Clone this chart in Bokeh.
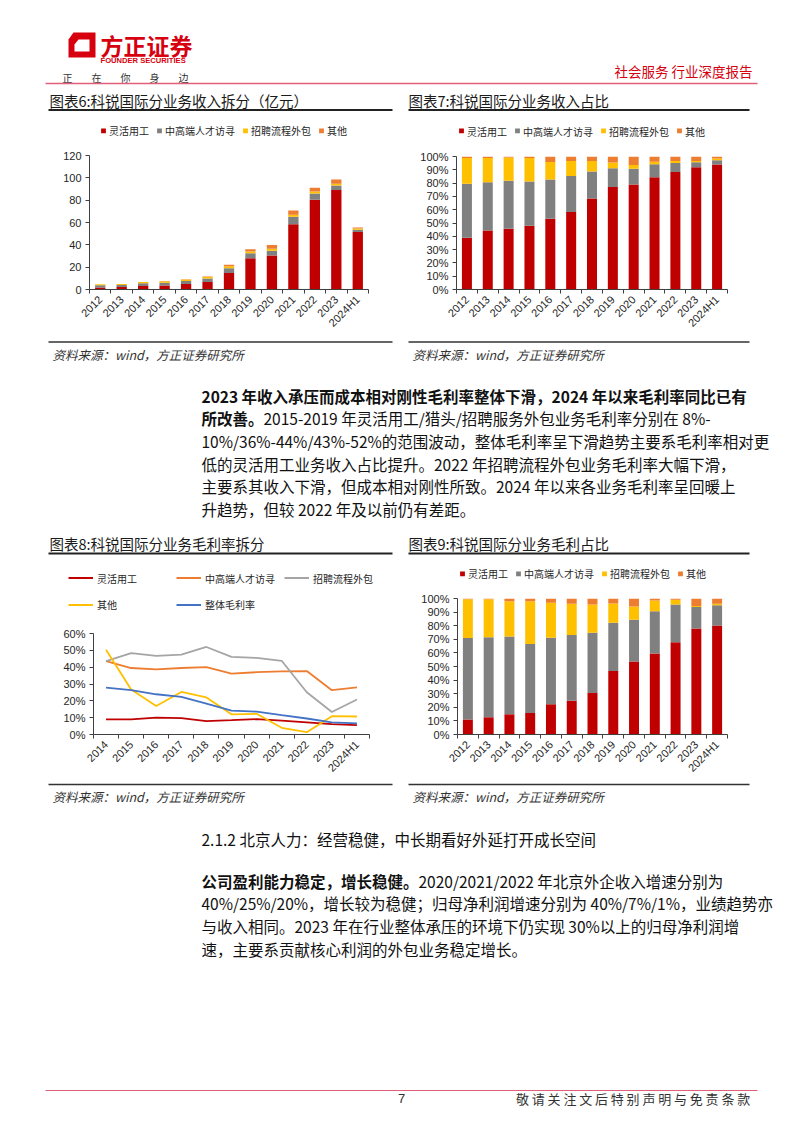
import math
from bokeh.plotting import figure
from bokeh.models import (ColumnDataSource, Range1d, FixedTicker, Legend, LegendItem,
                          CustomJSTickFormatter, PrintfTickFormatter)
from bokeh.layouts import column, row
from bokeh.embed import file_html
from bokeh.resources import INLINE
from bokeh.core.properties import value

CJK = "Noto Sans CJK SC"
LAT = "Liberation Sans"
AX = "#404040"

# ---------------- data ----------------
years = ["2012", "2013", "2014", "2015", "2016", "2017", "2018", "2019",
         "2020", "2021", "2022", "2023", "2024H1"]
series_names = ["灵活用工", "中高端人才访寻", "招聘流程外包", "其他"]
bar_colors = ["#C00000", "#808080", "#FFC000", "#ED7D31"]

# 图表6: revenue by segment (亿元)
rev_flex = [1.8, 2.2, 3.1, 3.6, 4.9, 6.8, 14.8, 28.0, 30.5, 58.5, 80.3, 89.1, 51.6]
rev_hunt = [1.9, 1.8, 2.4, 2.5, 2.7, 3.1, 4.3, 4.5, 4.3, 6.7, 5.6, 4.1, 2.0]
rev_rpo = [0.9, 0.9, 1.2, 1.35, 1.25, 1.3, 1.8, 1.6, 1.8, 1.8, 1.8, 1.5, 1.0]
rev_other = [0.05, 0.06, 0.05, 0.1, 0.4, 0.4, 1.2, 2.0, 3.3, 3.8, 3.5, 3.7, 1.0]

# 图表7: revenue share (%)
sh_flex = [39.0, 44.4, 45.6, 48.0, 53.2, 58.3, 68.5, 77.0, 79.0, 84.4, 88.3, 92.0, 93.9]
sh_hunt = [40.5, 36.3, 36.1, 33.2, 29.5, 27.1, 20.3, 14.2, 11.7, 9.7, 6.8, 3.6, 3.2]
sh_rpo = [19.3, 18.1, 17.6, 17.6, 13.2, 11.2, 7.8, 4.2, 3.0, 2.0, 1.5, 1.0, 1.4]
sh_other = [1.2, 1.2, 0.7, 1.2, 4.1, 3.4, 3.4, 4.6, 6.3, 3.9, 3.4, 3.4, 1.5]

# 图表8: gross margin by segment (%)
gm_years = ["2014", "2015", "2016", "2017", "2018", "2019", "2020", "2021",
            "2022", "2023", "2024H1"]
gm_names = ["灵活用工", "中高端人才访寻", "招聘流程外包", "其他", "整体毛利率"]
gm_colors = ["#C00000", "#ED7D31", "#A5A5A5", "#FFC000", "#4472C4"]
gm_flex = [9.0, 9.0, 10.0, 9.7, 8.0, 8.5, 9.1, 8.2, 7.2, 6.2, 5.6]
gm_hunt = [43.6, 39.5, 38.7, 39.5, 40.0, 36.2, 37.0, 37.5, 37.7, 26.3, 28.0]
gm_rpo = [43.6, 48.4, 46.7, 47.5, 52.0, 46.1, 45.5, 43.8, 25.1, 13.4, 20.8]
gm_other = [50.4, 26.7, 16.9, 25.3, 22.0, 12.0, 12.3, 4.0, 1.4, 10.9, 10.7]
gm_total = [27.8, 26.3, 23.9, 22.4, 18.3, 14.2, 13.6, 11.5, 9.5, 7.2, 6.6]

# 图表9: gross profit share (%)
gp_flex = [11.0, 12.7, 14.9, 15.9, 22.2, 24.9, 30.5, 46.6, 53.7, 59.5, 67.8, 78.0, 80.2]
gp_hunt = [60.0, 58.8, 57.1, 50.7, 49.0, 48.3, 44.4, 35.6, 30.7, 31.2, 27.8, 15.7, 14.9]
gp_rpo = [28.5, 28.0, 26.0, 31.4, 25.6, 22.9, 20.7, 14.1, 9.7, 7.8, 3.4, 0.7, 1.0]
gp_other = [0.5, 0.5, 2.0, 2.0, 3.2, 3.9, 4.4, 3.7, 5.9, 1.5, 1.0, 5.6, 3.9]

W = 786


# ---------------- helpers ----------------
def no_align(p):
    try:
        p.frame_align = False
    except Exception:
        pass
    return p


def blank_fig(w, h, xr, yr):
    p = figure(width=w, height=h, x_range=xr, y_range=yr,
               output_backend="svg", toolbar_location=None, min_border=0,
               x_axis_type=None, y_axis_type=None)
    p.outline_line_color = None
    return no_align(p)


def page_fig(y0, y1):
    return blank_fig(W, y1 - y0, Range1d(0, W), Range1d(y1, y0))


def put(p, x, y, s, size, color="#111111", font=CJK, style="normal", align="left"):
    p.text(x=[x], y=[y], text=[s], text_font=value(font), text_font_size=size,
           text_color=color, text_font_style=style, text_align=align, text_baseline="middle")


def hline(p, x0, x1, y, color, w):
    p.segment(x0=[x0], y0=[y], x1=[x1], y1=[y], line_color=color, line_width=w)


def legend_fig(w, h, kind, names, colors, mx, gw, gh, spacing=7, standoff=3, label_width=None):
    # legend strip above a chart; its swatches use the chart's series styles
    p = blank_fig(w, h, Range1d(0, 1), Range1d(0, 1))
    rs = []
    for c in colors:
        if kind == "bar":
            rs.append(p.vbar(x=[5], top=[1], width=0.5, fill_color=c, line_color=None))
        else:
            rs.append(p.line(x=[5, 6], y=[0.5, 0.5], line_color=c, line_width=1.8))
    leg = Legend(items=[LegendItem(label=n, renderers=[r]) for n, r in zip(names, rs)],
                 location="center_left", orientation="horizontal", glyph_width=gw, glyph_height=gh,
                 label_text_font=CJK, label_text_font_size="10px", label_text_color="#262626",
                 label_standoff=standoff, spacing=spacing, padding=0, margin=mx, label_height=10,
                 border_line_color=None, background_fill_alpha=0)
    if label_width:
        leg.label_width = label_width
    p.add_layout(leg)
    return p


def style_axes(p, labels):
    n = len(labels)
    centers = [i + 0.5 for i in range(n)]
    p.xaxis.ticker = FixedTicker(ticks=centers, minor_ticks=list(range(n + 1)))
    p.xaxis.formatter = CustomJSTickFormatter(args=dict(labels=labels),
                                              code="return labels[Math.round(tick - 0.5)];")
    p.xaxis.major_label_orientation = math.pi / 4
    p.xaxis.major_tick_line_color = None
    p.xaxis.major_tick_out = 0
    p.xaxis.minor_tick_line_color = AX
    p.xaxis.minor_tick_in = 0
    p.xaxis.minor_tick_out = 4
    p.xaxis.major_label_standoff = 4
    for ax in (p.xaxis, p.yaxis):
        ax.axis_line_color = AX
        ax.major_label_text_font = LAT
        ax.major_label_text_font_size = "11px"
        ax.major_label_text_color = "#262626"
    p.yaxis.major_tick_in = 0
    p.yaxis.major_tick_out = 4
    p.yaxis.major_tick_line_color = AX
    p.yaxis.minor_tick_line_color = None
    p.yaxis.major_label_standoff = 4
    p.grid.visible = False
    p.outline_line_color = None


def bar_chart(w, h, bl, br, bt, bb, ymax, ystep, pct, cols):
    data = dict(x=[i + 0.5 for i in range(len(years))])
    keys = []
    for k, c in enumerate(cols):
        data[f"s{k}"] = c
        keys.append(f"s{k}")
    src = ColumnDataSource(data)
    p = figure(width=w, height=h, x_range=Range1d(0, len(years)), y_range=Range1d(0, ymax),
               output_backend="svg", toolbar_location=None,
               min_border_left=bl, min_border_right=br, min_border_top=bt, min_border_bottom=bb)
    no_align(p)
    p.vbar_stack(keys, x="x", width=0.48, fill_color=bar_colors, line_color=None, source=src)
    style_axes(p, years)
    p.yaxis.ticker = FixedTicker(ticks=list(range(0, ymax + 1, ystep)))
    if pct:
        p.yaxis.formatter = PrintfTickFormatter(format="%d%%")
    return p


# ---------------- section A: header + titles (ref y 0..118) ----------------
A = page_fig(0, 118)
A.patch(x=[73, 95, 95, 68, 68], y=[32, 32, 57, 57, 39], fill_color="#D7000F", line_color=None)
A.patch(x=[78, 89, 89, 74, 74], y=[39, 39, 51, 51, 44], fill_color="white", line_color=None)
put(A, 100, 44, "方正证券", "23px", color="#D7000F", style="bold")
put(A, 100, 60, "FOUNDER SECURITIES", "7.6px", color="#D7000F", font=LAT, style="bold")
for i, ch in enumerate("正在你身边"):
    put(A, 67 + 29 * i, 77, ch, "10px", color="#333333", align="center")
put(A, 752, 70, "社会服务 行业深度报告", "13.5px", color="#D7000F", align="right")
hline(A, 45, 757, 83, "#E0607A", 1.4)
put(A, 49, 100, "图表6:科锐国际分业务收入拆分（亿元）", "14.5px", color="#1a1a1a")
put(A, 408, 100, "图表7:科锐国际分业务收入占比", "14.5px", color="#1a1a1a")
hline(A, 48, 392, 109.5, "#222222", 2)
hline(A, 408, 749, 109.5, "#222222", 2)

# ---------------- section B: charts 6 & 7 (ref y 118..336) ----------------
leg6 = legend_fig(400, 24, "bar", series_names, bar_colors, 100, 6, 6)
p6 = bar_chart(400, 194, 89, 32, 13, 43, 120, 20, False,
               [rev_flex, rev_hunt, rev_rpo, rev_other])
leg7 = legend_fig(386, 25, "bar", series_names, bar_colors, 58, 6, 6)
p7 = bar_chart(386, 193, 56, 59, 13, 43, 100, 10, True,
               [sh_flex, sh_hunt, sh_rpo, sh_other])

# ---------------- section C: sources + paragraph + titles (ref y 336..560) ----------------
C = page_fig(336, 560)
SRC = "资料来源：wind，方正证券研究所"
hline(C, 48, 392, 341.5, "#333333", 1.5)
hline(C, 408, 749, 341.5, "#333333", 1.5)
put(C, 52, 354, SRC, "12.5px", color="#333333", style="italic")
put(C, 412, 354, SRC, "12.5px", color="#333333", style="italic")
PX = 201
FS = "15.5px"
ys1 = [395, 417.7, 440.4, 463.1, 485.8, 508.5]
put(C, PX, ys1[0], "2023 年收入承压而成本相对刚性毛利率整体下滑，2024 年以来毛利率同比已有", FS, style="bold")
put(C, PX, ys1[1], "所改善。", FS, style="bold")
put(C, PX + 62, ys1[1], "2015-2019 年灵活用工/猎头/招聘服务外包业务毛利率分别在 8%-", FS)
put(C, PX, ys1[2], "10%/36%-44%/43%-52%的范围波动，整体毛利率呈下滑趋势主要系毛利率相对更", FS)
put(C, PX, ys1[3], "低的灵活用工业务收入占比提升。2022 年招聘流程外包业务毛利率大幅下滑，", FS)
put(C, PX, ys1[4], "主要系其收入下滑，但成本相对刚性所致。2024 年以来各业务毛利率呈回暖上", FS)
put(C, PX, ys1[5], "升趋势，但较 2022 年及以前仍有差距。", FS)
put(C, 49, 543, "图表8:科锐国际分业务毛利率拆分", "14.5px", color="#1a1a1a")
put(C, 408, 543, "图表9:科锐国际分业务毛利占比", "14.5px", color="#1a1a1a")
hline(C, 48, 392, 553, "#222222", 2)
hline(C, 408, 749, 553, "#222222", 2)

# ---------------- section D: charts 8 & 9 (ref y 560..781) ----------------
leg8a = legend_fig(400, 35, "line", gm_names[:3], gm_colors[:3], 68, 25, 12,
                   spacing=0, standoff=4, label_width=79)
leg8b = legend_fig(400, 18, "line", gm_names[3:], gm_colors[3:], 68, 25, 12,
                   spacing=0, standoff=4, label_width=79)
src8 = ColumnDataSource(dict(x=[i + 0.5 for i in range(len(gm_years))],
                             flex=gm_flex, hunt=gm_hunt, rpo=gm_rpo, other=gm_other, total=gm_total))
p8 = figure(width=400, height=168, x_range=Range1d(0, len(gm_years)), y_range=Range1d(0, 60),
            output_backend="svg", toolbar_location=None,
            min_border_left=93, min_border_right=31, min_border_top=20, min_border_bottom=45)
no_align(p8)
for key, col in zip(["flex", "hunt", "rpo", "other", "total"], gm_colors):
    p8.line(x="x", y=key, source=src8, line_color=col, line_width=1.8)
style_axes(p8, gm_years)
p8.yaxis.ticker = FixedTicker(ticks=list(range(0, 61, 10)))
p8.yaxis.formatter = PrintfTickFormatter(format="%d%%")

leg9 = legend_fig(386, 26, "bar", series_names, bar_colors, 59, 6, 6)
p9 = bar_chart(386, 195, 57, 59, 12, 45, 100, 10, True,
               [gp_flex, gp_hunt, gp_rpo, gp_other])

# ---------------- section E: sources + text + footer (ref y 781..1117) ----------------
E = page_fig(781, 1117)
hline(E, 48, 392, 784, "#333333", 1.5)
hline(E, 408, 749, 784, "#333333", 1.5)
put(E, 52, 796, SRC, "12.5px", color="#333333", style="italic")
put(E, 412, 796, SRC, "12.5px", color="#333333", style="italic")
put(E, PX, 838, "2.1.2 北京人力：经营稳健，中长期看好外延打开成长空间", FS)
ys2 = [880, 902.7, 925.4, 948.1]
put(E, PX, ys2[0], "公司盈利能力稳定，增长稳健。", FS, style="bold")
put(E, PX + 217, ys2[0], "2020/2021/2022 年北京外企收入增速分别为", FS)
put(E, PX, ys2[1], "40%/25%/20%，增长较为稳健；归母净利润增速分别为 40%/7%/1%，业绩趋势亦", FS)
put(E, PX, ys2[2], "与收入相同。2023 年在行业整体承压的环境下仍实现 30%以上的归母净利润增", FS)
put(E, PX, ys2[3], "速，主要系贡献核心利润的外包业务稳定增长。", FS)
hline(E, 45, 757, 1090, "#E0607A", 1.2)
put(E, 401, 1098, "7", "13px", color="#333333", font=LAT, align="center")
disc = "敬请关注文后特别声明与免责条款"
for i, ch in enumerate(disc):
    put(E, 522 + 15.8 * i, 1098, ch, "13px", color="#333333", align="center")

layout = column(
    A,
    row(column(leg6, p6, spacing=0), column(leg7, p7, spacing=0), spacing=0),
    C,
    row(column(leg8a, leg8b, p8, spacing=0), column(leg9, p9, spacing=0), spacing=0),
    E,
    spacing=0,
)
open("out.html", "w").write(file_html(layout, INLINE))
